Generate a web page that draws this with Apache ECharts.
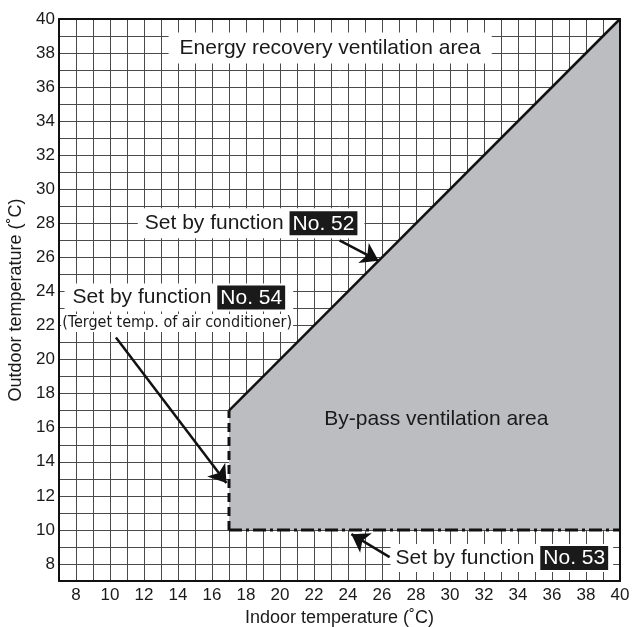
<!DOCTYPE html>
<html>
<head>
<meta charset="utf-8">
<title>Ventilation mode area</title>
<script src="https://cdn.jsdelivr.net/npm/echarts@6/dist/echarts.min.js"></script>
<style>
  html, body { margin: 0; padding: 0; background: #fff; }
  #chart { width: 637px; height: 627px; }
</style>
</head>
<body>
<div id="chart"></div>
<script>
// axis ranges (degC)
const indoorRange = [7, 40];
const outdoorRange = [7, 40];
const gridStep = 1;
const labelStep = 2;

// by-pass area outline (indoor, outdoor)
const bypassArea = [[17, 10], [17, 17], [40, 40], [40, 10]];
const limitNo52 = [[17, 17], [40, 40]];   // upper limit, solid
const limitNo54 = [[17, 10], [17, 17]];   // indoor limit, dashed
const limitNo53 = [[17, 10], [40, 10]];   // outdoor limit, dash-dot

// callout arrows [from, to]
const arrowNo52 = [[23.5, 27.0], [25.8, 25.8]];
const arrowNo54 = [[10.35, 21.3], [16.85, 12.75]];
const arrowNo53 = [[26.45, 8.4], [24.2, 9.75]];

const FONT = '"Liberation Sans", Arial, Helvetica, sans-serif';
const NARROW = '"DejaVu Sans Condensed", "Liberation Sans Narrow", sans-serif';

var chart = echarts.init(document.getElementById('chart'));

function evenOnly(v) {
  return v % labelStep === 0 ? String(v) : '';
}

var boxRich = {
  a: { fontFamily: FONT, fontSize: 21, color: '#1a1a1a' },
  b: { fontFamily: FONT, fontSize: 21, color: '#fff', backgroundColor: '#1a1a1a', padding: [2, 3, 1, 3] }
};

var option = {
  animation: false,
  grid: { left: 59, top: 19, width: 561, height: 562, outerBoundsMode: 'none', containLabel: false },
  xAxis: [
    {
      type: 'value', min: indoorRange[0], max: indoorRange[1], interval: gridStep,
      name: 'Indoor temperature (˚C)', nameLocation: 'middle', nameGap: 25,
      nameTextStyle: { fontFamily: FONT, fontSize: 18, color: '#1a1a1a' },
      axisLine: { show: true, lineStyle: { color: '#111', width: 2 } },
      axisTick: { show: false },
      axisLabel: { formatter: evenOnly, fontFamily: FONT, fontSize: 17, color: '#1a1a1a', margin: 6 },
      splitLine: { show: true, lineStyle: { color: '#4a4a4a', width: 1 } }
    },
    {
      type: 'value', min: indoorRange[0], max: indoorRange[1], position: 'top', z: 10,
      axisLine: { show: true, onZero: false, lineStyle: { color: '#111', width: 2 } },
      axisTick: { show: false }, axisLabel: { show: false }, splitLine: { show: false }
    }
  ],
  yAxis: [
    {
      type: 'value', min: outdoorRange[0], max: outdoorRange[1], interval: gridStep,
      name: 'Outdoor temperature (˚C)', nameLocation: 'middle', nameGap: 33,
      nameTextStyle: { fontFamily: FONT, fontSize: 18, color: '#1a1a1a' },
      axisLine: { show: true, lineStyle: { color: '#111', width: 2 } },
      axisTick: { show: false },
      axisLabel: { formatter: evenOnly, fontFamily: FONT, fontSize: 17, color: '#1a1a1a', margin: 4 },
      splitLine: { show: true, lineStyle: { color: '#4a4a4a', width: 1 } }
    },
    {
      type: 'value', min: outdoorRange[0], max: outdoorRange[1], position: 'right', z: 10,
      axisLine: { show: true, onZero: false, lineStyle: { color: '#111', width: 2 } },
      axisTick: { show: false }, axisLabel: { show: false }, splitLine: { show: false }
    }
  ],
  series: [
    {
      type: 'custom',
      z: 2,
      data: bypassArea,
      renderItem: function (params, api) {
        if (params.dataIndex !== 0) return;
        return {
          type: 'polygon',
          shape: { points: bypassArea.map(function (p) { return api.coord(p); }) },
          style: { fill: '#bcbdc0' }
        };
      }
    },
    {
      type: 'line', z: 4, data: limitNo52, symbol: 'none',
      lineStyle: { color: '#111', width: 2.5 }
    },
    {
      type: 'line', z: 4, data: limitNo54, symbol: 'none',
      lineStyle: { color: '#111', width: 3, type: [9, 5] }
    },
    {
      type: 'line', z: 4, data: limitNo53, symbol: 'none',
      lineStyle: { color: '#111', width: 3, type: [13, 4, 3, 4] }
    },
    {
      type: 'scatter', z: 6, symbolSize: 0,
      itemStyle: { opacity: 1 },
      label: { show: true, position: 'inside', color: '#1a1a1a', fontFamily: FONT, fontSize: 21, opacity: 1 },
      data: [
        {
          value: [22.95, 38.3],
          label: { formatter: 'Energy recovery ventilation area', backgroundColor: '#fff', padding: [5, 11] }
        },
        {
          value: [29.2, 16.5],
          label: { formatter: 'By-pass ventilation area' }
        },
        {
          value: [18.3, 28.0],
          label: { formatter: '{a|Set by function }{b|No. 52}', rich: boxRich, backgroundColor: '#fff', padding: [3, 7] }
        },
        {
          value: [14.05, 23.65],
          label: { formatter: '{a|Set by function }{b|No. 54}', rich: boxRich, backgroundColor: '#fff', padding: [2, 8] }
        },
        {
          value: [13.95, 22.15],
          label: { formatter: '(Terget temp. of air conditioner)', fontFamily: NARROW, fontSize: 16, backgroundColor: '#fff', padding: [1, 1] }
        },
        {
          value: [33.05, 8.35],
          label: { formatter: '{a|Set by function }{b|No. 53}', rich: boxRich, backgroundColor: '#fff', padding: [2, 5] }
        }
      ]
    },
    {
      type: 'lines', z: 8, coordinateSystem: 'cartesian2d',
      symbol: ['none', 'arrow'], symbolSize: [11, 17],
      lineStyle: { color: '#111', width: 2.5, opacity: 1 },
      data: [
        { coords: arrowNo52 },
        { coords: arrowNo54 },
        { coords: arrowNo53 }
      ]
    }
  ]
};

option && chart.setOption(option);
</script>
</body>
</html>
